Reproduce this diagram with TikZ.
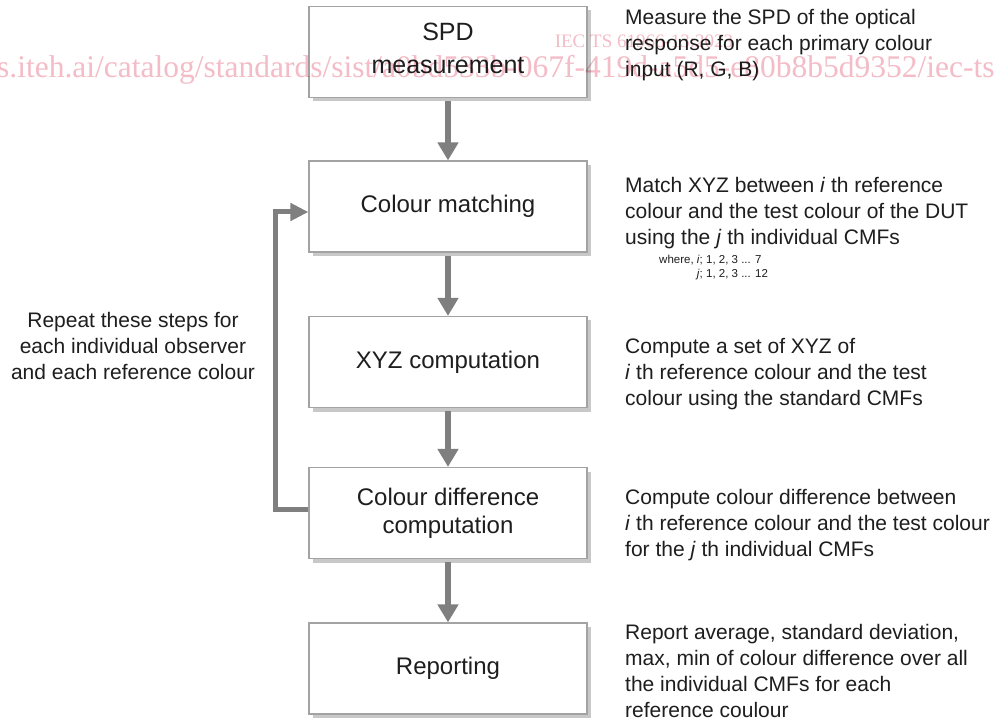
\documentclass[tikz,border=0pt]{standalone}
\usepackage{fontspec}
\setmainfont{Liberation Sans}
\newfontfamily\wmfont{Liberation Serif}
\usetikzlibrary{shadows,arrows.meta}
\definecolor{arrowgray}{HTML}{7F7F7F}
\definecolor{boxborder}{HTML}{A3A3A3}
\definecolor{txt}{HTML}{1E1E1E}
\definecolor{wmpink}{HTML}{F3BCC6}
\begin{document}
\begin{tikzpicture}[x=1pt,y=-1pt,
  stepbox/.style={draw=boxborder, line width=1.2pt, fill=white,
    minimum width=278pt, minimum height=91pt, inner sep=0pt, align=center,
    font=\fontsize{24}{28}\selectfont, text=txt,
    drop shadow={shadow xshift=4pt, shadow yshift=-4pt, fill=black!70, opacity=0.3}},
  flow/.style={draw=arrowgray, line width=5.5pt, shorten <=3pt,
    -{Triangle[width=20pt,length=18pt]}},
  loopline/.style={draw=arrowgray, line width=5pt, line join=miter,
    -{Triangle[width=17pt,length=18pt]}},
  desc/.style={anchor=north west, align=left, inner sep=0pt,
    font=\fontsize{21}{26}\selectfont, text=txt},
  wm/.style={text=wmpink, inner sep=0pt},
]
\useasboundingbox (0,0) rectangle (999,719);
\clip (0,0) rectangle (999,719);
\fill[white] (0,0) rectangle (999,719);

% boxes
\node[stepbox, font=\fontsize{25}{28}\selectfont] (spd) at (448,52) {SPD\\[5pt]measurement\rule[-8pt]{0pt}{8pt}};
\node[stepbox] (cm) at (448,206.5) {Colour matching};
\node[stepbox] (xyz) at (448,362) {XYZ computation};
\node[stepbox] (cd) at (448,513) {Colour difference\\computation};
\node[stepbox] (rep) at (448,668.5) {Reporting};

% flow arrows
\draw[flow] (spd) -- (cm);
\draw[flow] (cm) -- (xyz);
\draw[flow] (xyz) -- (cd);
\draw[flow] (cd) -- (rep);

% feedback loop
\coordinate (cdl) at ([yshift=4pt]cd.west);
\coordinate (cml) at ([yshift=-5.5pt]cm.west);
\coordinate (lx) at (275,360);
\draw[loopline] (cdl) -- (cdl -| lx) -- (cml -| lx) -- (cml);

% left text
\node[inner sep=0pt, anchor=north, align=center, text=txt,
  font=\fontsize{21}{26}\selectfont] (repeat) at (133,312)
  {Repeat these steps for\\each individual observer\\and each reference colour};

% right descriptions
\node[desc] (d1) at (625,9) {Measure the SPD of the optical\\response for each primary colour\\input (R, G, B)};
\node[desc] (d2) at (625,177) {Match XYZ between \textit{i} th reference\\colour and the test colour of the DUT\\using the \textit{j} th individual CMFs};
\node[inner sep=0pt, anchor=north west, text=txt, font=\fontsize{11.5}{14}\selectfont] (where) at (659,254)
  {\begin{tabular}{@{}r@{}l@{}}where,~ & \textit{i}; 1, 2, 3 ... 7\\ & \textit{j}; 1, 2, 3 ... 12\end{tabular}};
\node[desc] (d3) at (625,338) {Compute a set of XYZ of\\\textit{i} th reference colour and the test\\colour using the standard CMFs};
\node[desc] (d4) at (625,489) {Compute colour difference between\\\textit{i} th reference colour and the test colour\\for the \textit{j} th individual CMFs};
\node[desc] (d5) at (625,624) {Report average, standard deviation,\\max, min of colour difference over all\\the individual CMFs for each\\reference coulour};

% watermark (multiplied over the drawing)
\begin{scope}[blend mode=multiply]
\node[wm, font=\wmfont\fontsize{19}{19}\selectfont] (wm1) at (644,41) {IEC TS 61966-13:2023};
\node[wm, anchor=west, font=\wmfont\fontsize{31.5}{31.5}\selectfont] (wm2) at (-3,70) {s.iteh.ai/catalog/standards/sist/a0bd533b-067f-419d-a5d5-e80b8b5d9352/iec-ts};
\end{scope}
\end{tikzpicture}
\end{document}
